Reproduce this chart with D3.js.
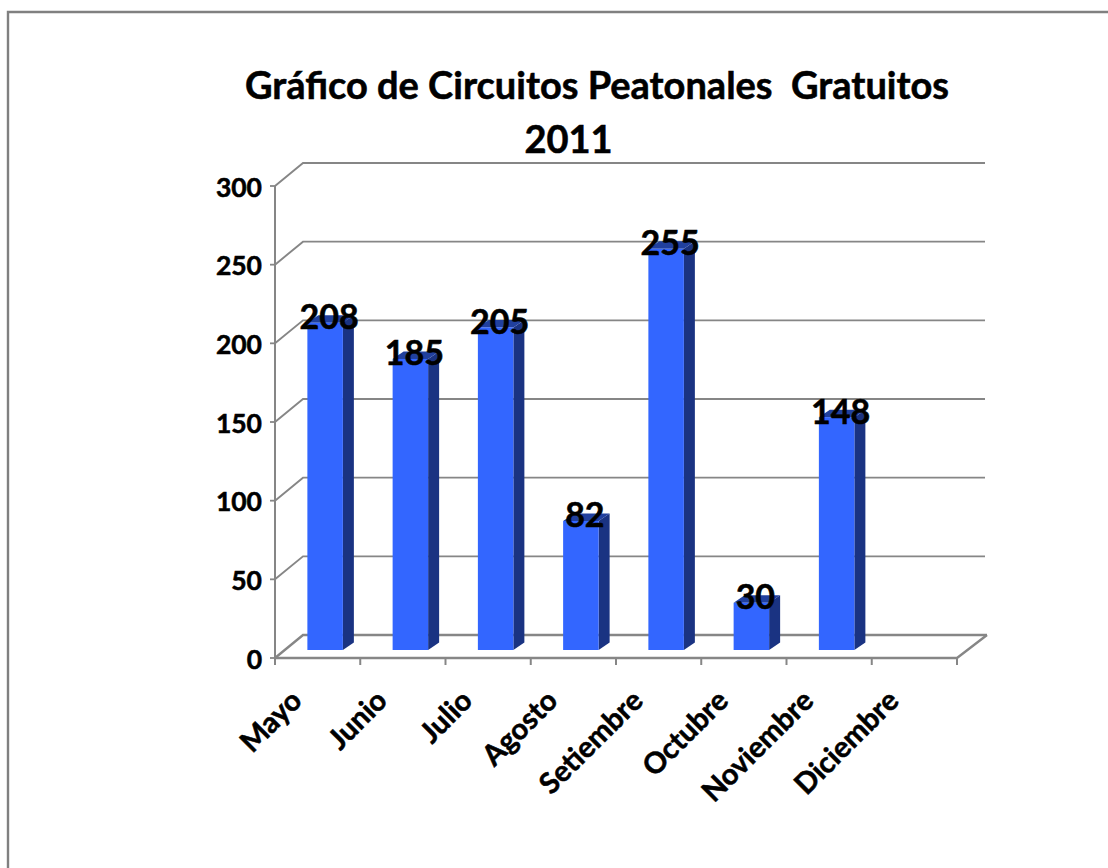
<!DOCTYPE html>
<html><head><meta charset="utf-8">
<script src="https://cdn.jsdelivr.net/npm/d3@7/dist/d3.min.js"></script>
<style>html,body{margin:0;padding:0;background:#fff}svg{display:block}text{font-family:Lato,sans-serif;font-weight:700;fill:#000;stroke:#000;stroke-width:.55px}</style>
</head><body><script>
const categories=["Mayo","Junio","Julio","Agosto","Setiembre","Octubre","Noviembre","Diciembre"];
const values=[208,185,205,82,255,30,148,null];
const yTicks=[0,50,100,150,200,250,300];
const titleLines=["Gráfico de Circuitos Peatonales  Gratuitos","2011"];
const W=1108,H=868,grid="#868686";
const svg=d3.select("body").append("svg").attr("width",W).attr("height",H);
const x=d3.scaleBand().domain(categories).range([275,957]).padding(0);
const y=d3.scaleLinear().domain([0,300]).range([658,186]);
const back={dx:28,dy:-23};
const depth={dx:11,dy:-7.5};
const plane={dx:7.5,dy:-8};
const barW=35.5;
// frame
svg.append("path").attr("d",`M8,${H}V12H${W}`).attr("fill","none").attr("stroke","#808080").attr("stroke-width",2.4);
// title
svg.selectAll("text.title").data(titleLines).join("text").attr("class","title")
  .attr("x",(d,i)=>i?568.5:597).attr("y",(d,i)=>i?152.5:98.5).attr("text-anchor","middle")
  .attr("font-size",38).style("white-space","pre").attr("xml:space","preserve").text(d=>d);
const L=x.range()[0],R=x.range()[1];
const g=svg.append("g").attr("fill","none").attr("stroke",grid);
yTicks.forEach(t=>{
  g.append("path").attr("stroke-width",t?1.9:2.4)
   .attr("d",`M${L},${y(t)}L${L+back.dx},${y(t)+back.dy}H${R+back.dx+(t?0:2)}`);
});
g.append("path").attr("stroke-width",2.4).attr("d",`M${L},${y(0)}H${R}L${R+back.dx+2},${y(0)+back.dy}`);
g.append("path").attr("stroke-width",2).attr("d",`M${L},${y(300)}V${y(0)+6}`);
yTicks.forEach(t=>g.append("path").attr("stroke-width",1.8).attr("d",`M${L-5},${y(t)}H${L}`));
[...categories.map(c=>x(c)),R].forEach(p=>g.append("path").attr("stroke-width",2).attr("d",`M${p},${y(0)}V${y(0)+7}`));
// bars
const data=categories.map((c,i)=>({c,v:values[i]})).filter(d=>d.v!=null);
const bars=svg.append("g").selectAll("g").data(data).join("g");
const bx=d=>x(d.c)+x.bandwidth()/2+plane.dx-barW/2;
const by=v=>y(v)+plane.dy;
bars.append("path").attr("fill","#1a3382").attr("d",d=>{const a=bx(d)+barW;return `M${a},${by(d.v)}l${depth.dx},${depth.dy}V${by(0)+depth.dy}l${-depth.dx},${-depth.dy}Z`;});
bars.append("path").attr("fill","#21409e").attr("d",d=>{const a=bx(d);return `M${a},${by(d.v)}l${depth.dx},${depth.dy}h${barW}l${-depth.dx},${-depth.dy}Z`;});
bars.append("rect").attr("fill","#3366ff").attr("x",bx).attr("y",d=>by(d.v)).attr("width",barW).attr("height",d=>by(0)-by(d.v));
// tick labels
svg.selectAll("text.yt").data(yTicks).join("text").attr("class","yt").attr("x",262).attr("y",d=>y(d)+10.5).attr("text-anchor","end").attr("font-size",26.5).text(d=>d);
svg.selectAll("text.xt").data(categories).join("text").attr("class","xt").attr("text-anchor","end").attr("font-size",29)
  .attr("transform",d=>`translate(${x(d)+x.bandwidth()/2-14},${y(0)+44.5}) rotate(-45)`).text(d=>d);
// data labels
svg.selectAll("text.dl").data(data).join("text").attr("class","dl").attr("text-anchor","middle").attr("font-size",34)
  .attr("x",d=>bx(d)+barW/2+4).attr("y",d=>by(d.v)+6.5).text(d=>d.v);
</script></body></html>
